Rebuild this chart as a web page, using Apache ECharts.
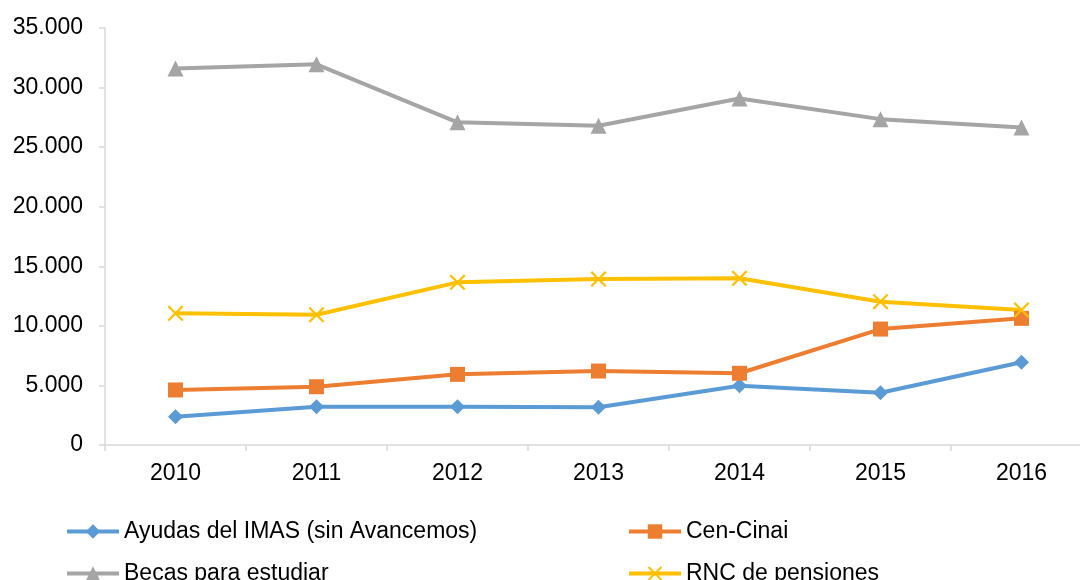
<!DOCTYPE html>
<html>
<head>
<meta charset="utf-8">
<script src="https://cdn.jsdelivr.net/npm/echarts@6/dist/echarts.min.js"></script>
<style>
  html, body { margin: 0; padding: 0; background: #ffffff; overflow: hidden; width: 1080px; height: 580px; }
  #chart { width: 1100px; height: 580px; }
</style>
</head>
<body>
<div id="chart"></div>
<script>
var categories = ['2010', '2011', '2012', '2013', '2014', '2015', '2016'];
var ayudas = [2380, 3220, 3220, 3160, 4980, 4390, 6940];
var cenCinai = [4620, 4890, 5930, 6210, 6020, 9730, 10630];
var becas = [31600, 31950, 27080, 26790, 29090, 27350, 26650];
var rnc = [11050, 10930, 13650, 13930, 13990, 12030, 11330];
var seriesNames = ['Ayudas del IMAS (sin Avancemos)', 'Cen-Cinai', 'Becas para estudiar', 'RNC de pensiones'];

var FONT = 'Liberation Sans, Arial, sans-serif';
var crossPath = 'path://M0,1L1,0L5,4L9,0L10,1L6,5L10,9L9,10L5,6L1,10L0,9L4,5Z';

function fmt(v) {
  return String(v).replace(/\B(?=(\d{3})+(?!\d))/g, '.');
}

function lineSeries(name, data, color, symbol, size) {
  return {
    name: name,
    type: 'line',
    data: data,
    symbol: symbol,
    symbolSize: size,
    showAllSymbol: true,
    lineStyle: { color: color, width: 4 },
    itemStyle: { color: color },
    emphasis: { disabled: true },
    z: 3
  };
}

function legendItem(name, left, top) {
  return {
    data: [name],
    left: left,
    top: top,
    padding: 0,
    itemWidth: 52,
    itemHeight: 18,
    lineStyle: { width: 4 },
    textStyle: { fontFamily: FONT, fontSize: 23, color: '#000000' },
    selectedMode: false
  };
}

var chart = echarts.init(document.getElementById('chart'), null, { renderer: 'canvas' });
chart.setOption({
  animation: false,
  backgroundColor: '#ffffff',
  textStyle: { fontFamily: FONT },
  grid: { left: 105, top: 28, bottom: 135, width: 987, containLabel: false },
  legend: [
    legendItem(seriesNames[0], 65, 520),
    legendItem(seriesNames[1], 627, 520),
    legendItem(seriesNames[2], 65, 562),
    legendItem(seriesNames[3], 627, 562)
  ],
  xAxis: {
    type: 'category',
    data: categories,
    boundaryGap: true,
    axisLine: { show: true, lineStyle: { color: '#D9D9D9', width: 1.5 } },
    axisTick: { show: true, length: 6, lineStyle: { color: '#D9D9D9', width: 1.5 } },
    axisLabel: { fontFamily: FONT, fontSize: 23, color: '#000000', margin: 17 },
    splitLine: { show: false }
  },
  yAxis: {
    type: 'value',
    min: 0,
    max: 35000,
    interval: 5000,
    axisLine: { show: true, lineStyle: { color: '#D9D9D9', width: 1.5 } },
    axisTick: { show: true, length: 6, lineStyle: { color: '#D9D9D9', width: 1.5 } },
    axisLabel: { fontFamily: FONT, fontSize: 23, color: '#000000', margin: 22, formatter: fmt },
    splitLine: { show: false }
  },
  series: [
    lineSeries(seriesNames[0], ayudas, '#5B9BD5', 'diamond', 15),
    lineSeries(seriesNames[1], cenCinai, '#ED7D31', 'rect', 15),
    lineSeries(seriesNames[2], becas, '#A5A5A5', 'triangle', 16),
    lineSeries(seriesNames[3], rnc, '#FFC000', crossPath, 16)
  ]
});
</script>
</body>
</html>
